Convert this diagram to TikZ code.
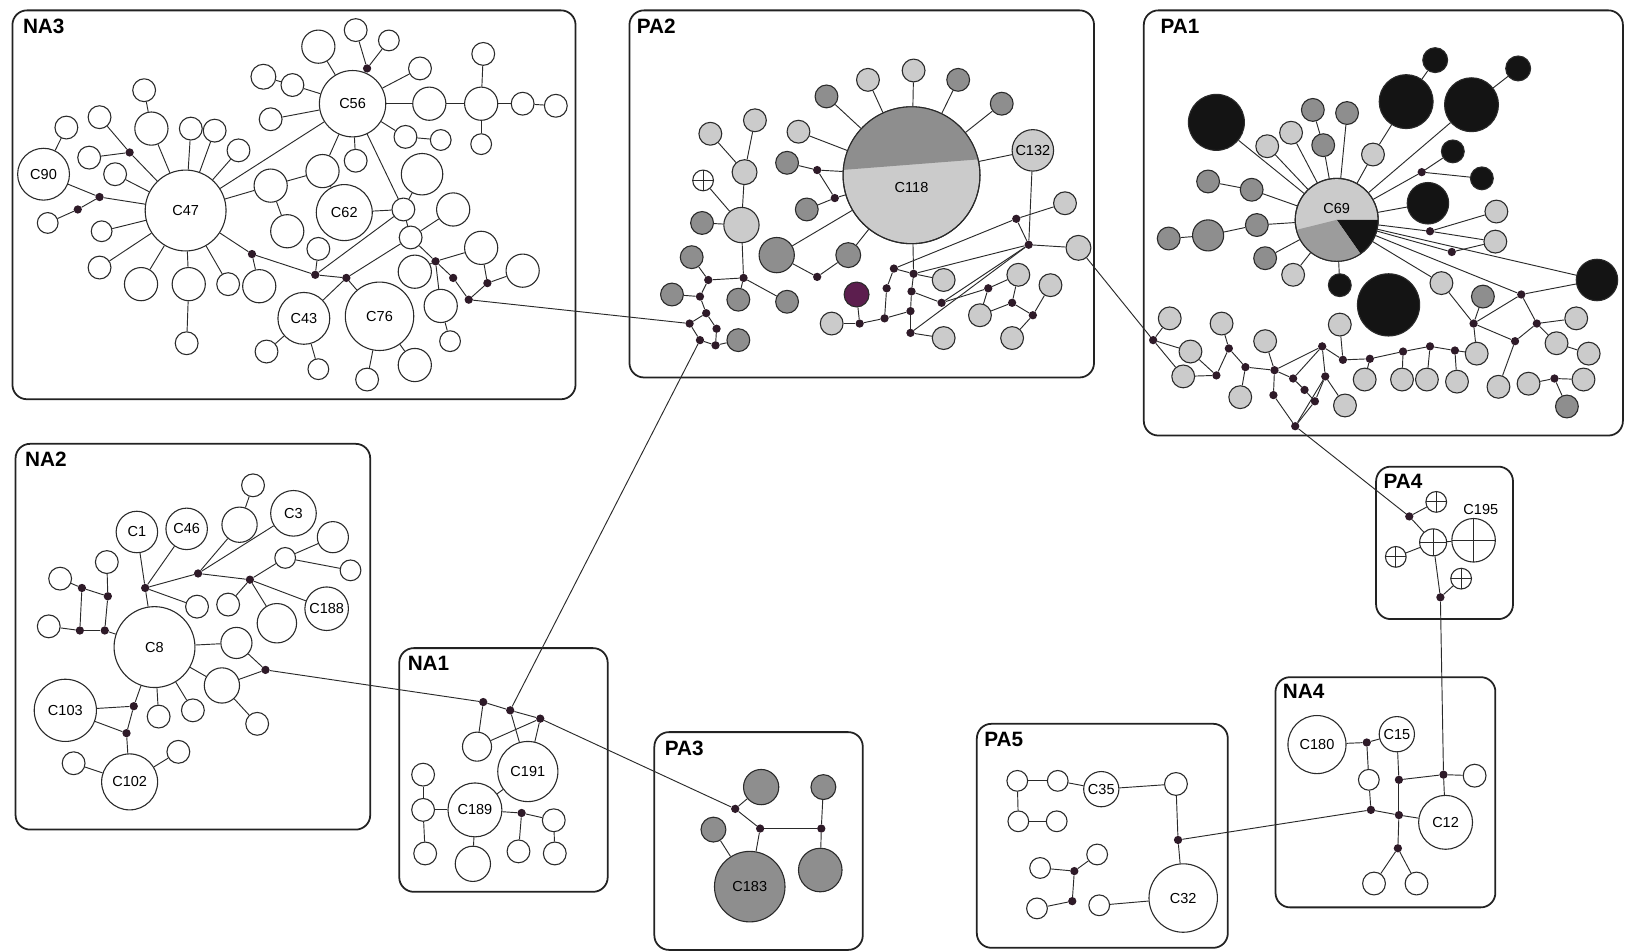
\documentclass[tikz,border=0pt]{standalone}
\usepackage{fontspec}
\setmainfont{Liberation Sans}
\pgfdeclarelayer{bg}
\pgfsetlayers{bg,main}
\definecolor{lc}{HTML}{2A2A2A}
\definecolor{bc}{HTML}{222222}
\definecolor{lg}{HTML}{CBCBCB}
\definecolor{dg}{HTML}{8E8E8E}
\definecolor{mg}{HTML}{9C9C9C}
\definecolor{bk}{HTML}{141414}
\definecolor{pu}{HTML}{5C1E4E}
\definecolor{dc}{HTML}{2E1A28}
\newcommand\clab{\fontsize{14}{14}\selectfont}
\newcommand\glabf{\fontsize{20}{20}\selectfont\bfseries}
\tikzset{
 hap/.style={circle, draw=lc, line width=1.05pt, inner sep=0pt, font=\clab},
 hw/.style={hap, fill=white, minimum size=#1pt},
 hl/.style={hap, fill=lg, minimum size=#1pt},
 hd/.style={hap, fill=dg, minimum size=#1pt},
 hb/.style={hap, fill=bk, minimum size=#1pt},
 hp/.style={hap, fill=pu, minimum size=#1pt},
 hx/.style={hap, fill=white, minimum size=#1pt, path picture={\draw[lc, line width=0.9pt] (path picture bounding box.north) -- (path picture bounding box.south) (path picture bounding box.west) -- (path picture bounding box.east);}},
 mv/.style={circle, fill=dc, inner sep=0pt, minimum size=8pt},
 ed/.style={draw=lc, line width=0.9pt},
 grp/.style={draw=bc, line width=1.7pt, rounded corners=14pt},
 glab/.style={anchor=north west, font=\glabf, inner sep=0pt},
 tlab/.style={font=\clab, inner sep=0pt},
}
\begin{document}
\begin{tikzpicture}[x=1pt,y=-1pt]
\useasboundingbox (0,0) rectangle (1568,918);
\begin{pgfonlayer}{bg}
\fill[white] (0,0) rectangle (1568,918);
\draw[grp] (12,10) rectangle (555,385);
\draw[grp] (607,10) rectangle (1055,364);
\draw[grp] (1103,10) rectangle (1565,420);
\draw[grp] (15,428) rectangle (357,800);
\draw[grp] (385,625) rectangle (586,860);
\draw[grp] (631,706) rectangle (832,916);
\draw[grp] (1327,450) rectangle (1459,597);
\draw[grp] (1230,653) rectangle (1442,875);
\draw[grp] (942,698) rectangle (1184,914);
\end{pgfonlayer}
% group labels
\node[glab] (lNA3) at (22,18) {NA3};
\node[glab] (lPA2) at (614,18) {PA2};
\node[glab] (lPA1) at (1119,18) {PA1};
\node[glab] (lNA2) at (24,436) {NA2};
\node[glab] (lNA1) at (393,633) {NA1};
\node[glab] (lPA3) at (641,714) {PA3};
\node[glab] (lPA4) at (1334,457) {PA4};
\node[glab] (lNA4) at (1237,660) {NA4};
\node[glab] (lPA5) at (949,706) {PA5};

% ---------- NA3 ----------
\node[hw=78] (C47) at (179,203) {C47};
\node[hw=64] (C56) at (340,100) {C56};
\node[hw=50] (C90) at (42,168) {C90};
\node[hw=54] (C62) at (332,205) {C62};
\node[hw=50] (C43) at (293,307) {C43};
\node[hw=66] (C76) at (366,305) {C76};
\node[hw=22] (a1) at (343,29) {};
\node[hw=20] (a2) at (375,39) {};
\node[hw=32] (a3) at (307,45) {};
\node[hw=24] (a4) at (254,74) {};
\node[hw=22] (a5) at (282,82) {};
\node[hw=22] (a6) at (405,66) {};
\node[hw=32] (a7) at (414,100) {};
\node[hw=32] (a8) at (464,100) {};
\node[hw=22] (a9) at (466,52) {};
\node[hw=20] (a10) at (464,139) {};
\node[hw=22] (a11) at (504,100) {};
\node[hw=22] (a12) at (536,102) {};
\node[hw=22] (a13) at (261,115) {};
\node[hw=22] (a14) at (391,132) {};
\node[hw=20] (a15) at (425,135) {};
\node[hw=22] (a16) at (343,155) {};
\node[hw=32] (a17) at (311,165) {};
\node[hw=40] (a18) at (407,168) {};
\node[hw=32] (a19) at (261,179) {};
\node[hw=22] (a20) at (230,145) {};
\node[hw=32] (a21) at (277,223) {};
\node[hw=22] (a22) at (389,202) {};
\node[hw=22] (a23) at (307,240) {};
\node[hw=22] (a24) at (396,229) {};
\node[hw=32] (a25) at (437,202) {};
\node[hw=32] (a26) at (464,239) {};
\node[hw=32] (a27) at (504,261) {};
\node[hw=32] (a28) at (400,262) {};
\node[hw=32] (a29) at (425,295) {};
\node[hw=20] (a30) at (434,329) {};
\node[hw=32] (a31) at (400,352) {};
\node[hw=22] (a32) at (354,366) {};
\node[hw=20] (a33) at (307,356) {};
\node[hw=22] (a34) at (257,339) {};
\node[hw=32] (a35) at (250,276) {};
\node[hw=22] (a36) at (139,87) {};
\node[hw=32] (a37) at (146,124) {};
\node[hw=22] (a38) at (184,124) {};
\node[hw=22] (a39) at (207,126) {};
\node[hw=22] (a40) at (96,113) {};
\node[hw=22] (a41) at (64,123) {};
\node[hw=22] (a42) at (86,152) {};
\node[hw=22] (a43) at (111,168) {};
\node[hw=20] (a44) at (46,215) {};
\node[hw=20] (a45) at (98,223) {};
\node[hw=22] (a46) at (96,258) {};
\node[hw=32] (a47) at (136,274) {};
\node[hw=32] (a48) at (182,274) {};
\node[hw=22] (a49) at (180,331) {};
\node[hw=22] (a50) at (220,274) {};
\node[mv] (ad1) at (354,66) {};
\node[mv] (ad2) at (125,147) {};
\node[mv] (ad3) at (96,190) {};
\node[mv] (ad4) at (75,202) {};
\node[mv] (ad5) at (243,245) {};
\node[mv] (ad6) at (304,265) {};
\node[mv] (ad7) at (334,268) {};
\node[mv] (ad8) at (420,252) {};
\node[mv] (ad9) at (437,268) {};
\node[mv] (ad10) at (470,273) {};
\node[mv] (ad11) at (452,289) {};

% ---------- PA2 ----------
\node[hl=132] (C118) at (879,169) {};
\fill[dg] (C118.center) ++(184.5:66) arc[start angle=184.5, end angle=346.6, radius=66] -- cycle;
\draw[lc, line width=1.05pt] (C118.center) circle[radius=66];
\node[tlab] (C118lab) at (879,181) {C118};
\node[hl=40] (C132) at (996,145) {C132};
\node[hl=22] (b1) at (881,68) {};
\node[hl=22] (b2) at (837,77) {};
\node[hd=22] (b3) at (797,93) {};
\node[hd=22] (b4) at (924,77) {};
\node[hd=22] (b5) at (966,100) {};
\node[hl=22] (b6) at (770,127) {};
\node[hd=22] (b7) at (759,157) {};
\node[hd=22] (b8) at (778,202) {};
\node[hl=22] (b9) at (685,129) {};
\node[hl=22] (b10) at (728,116) {};
\node[hx=20] (b11) at (678,174) {};
\node[hl=24] (b12) at (718,166) {};
\node[hl=34] (b13) at (715,217) {};
\node[hd=22] (b14) at (677,215) {};
\node[hd=34] (b15) at (749,246) {};
\node[hd=24] (b16) at (818,246) {};
\node[hd=22] (b17) at (667,248) {};
\node[hd=22] (b18) at (648,284) {};
\node[hd=22] (b19) at (712,289) {};
\node[hd=22] (b20) at (759,291) {};
\node[hd=22] (b21) at (712,328) {};
\node[hp=24] (b22) at (826,284) {};
\node[hl=22] (b23) at (802,312) {};
\node[hl=22] (b24) at (910,270) {};
\node[hl=22] (b25) at (910,326) {};
\node[hl=22] (b26) at (982,265) {};
\node[hl=22] (b27) at (1013,275) {};
\node[hl=22] (b28) at (945,304) {};
\node[hl=22] (b29) at (976,326) {};
\node[hl=22] (b30) at (1027,196) {};
\node[hl=24] (b31) at (1040,239) {};
\node[mv] (bd1) at (717,268) {};
\node[mv] (bd2) at (683,270) {};
\node[mv] (bd3) at (675,286) {};
\node[mv] (bd4) at (681,302) {};
\node[mv] (bd5) at (665,312) {};
\node[mv] (bd6) at (691,317) {};
\node[mv] (bd7) at (675,328) {};
\node[mv] (bd8) at (690,333) {};
\node[mv] (bd9) at (788,267) {};
\node[mv] (bd10) at (862,259) {};
\node[mv] (bd11) at (881,264) {};
\node[mv] (bd12) at (855,278) {};
\node[mv] (bd13) at (879,281) {};
\node[mv] (bd14) at (878,300) {};
\node[mv] (bd15) at (853,307) {};
\node[mv] (bd16) at (829,312) {};
\node[mv] (bd17) at (878,321) {};
\node[mv] (bd18) at (908,292) {};
\node[mv] (bd19) at (953,278) {};
\node[mv] (bd20) at (976,292) {};
\node[mv] (bd21) at (996,304) {};
\node[mv] (bd22) at (980,211) {};
\node[mv] (bd23) at (992,236) {};
\node[mv] (bd24) at (788,164) {};
\node[mv] (bd25) at (805,191) {};

% ---------- PA1 ----------
\node[hl=80] (C69) at (1289,212) {};
\fill[bk] (C69.center) -- ++(0:40) arc[start angle=0, end angle=55, radius=40] -- cycle;
\fill[mg] (C69.center) -- ++(55:40) arc[start angle=55, end angle=166, radius=40] -- cycle;
\draw[lc, line width=1.05pt] (C69.center) circle[radius=40];
\node[tlab] (C69lab) at (1289,201) {C69};
\node[hb=54] (p1) at (1173,118) {};
\node[hb=52] (p2) at (1356,98) {};
\node[hb=52] (p3) at (1419,101) {};
\node[hb=24] (p4) at (1384,58) {};
\node[hb=24] (p5) at (1464,66) {};
\node[hb=22] (p6) at (1401,146) {};
\node[hb=22] (p7) at (1429,172) {};
\node[hb=40] (p8) at (1377,196) {};
\node[hb=40] (p9) at (1540,270) {};
\node[hb=22] (p10) at (1292,275) {};
\node[hb=60] (p11) at (1339,294) {};
\node[hd=22] (p12) at (1266,106) {};
\node[hd=22] (p13) at (1299,109) {};
\node[hd=22] (p14) at (1276,140) {};
\node[hd=22] (p15) at (1165,175) {};
\node[hd=22] (p16) at (1207,183) {};
\node[hd=30] (p17) at (1165,227) {};
\node[hd=22] (p18) at (1127,230) {};
\node[hd=22] (p19) at (1212,217) {};
\node[hd=22] (p20) at (1220,249) {};
\node[hd=22] (p21) at (1430,286) {};
\node[hd=22] (p22) at (1511,392) {};
\node[hl=22] (p23) at (1245,128) {};
\node[hl=22] (p24) at (1222,141) {};
\node[hl=22] (p25) at (1324,149) {};
\node[hl=22] (p26) at (1443,204) {};
\node[hl=22] (p27) at (1442,233) {};
\node[hl=22] (p28) at (1247,265) {};
\node[hl=22] (p29) at (1390,273) {};
\node[hl=22] (p30) at (1128,307) {};
\node[hl=22] (p31) at (1178,312) {};
\node[hl=22] (p32) at (1148,339) {};
\node[hl=22] (p33) at (1141,363) {};
\node[hl=22] (p34) at (1196,383) {};
\node[hl=22] (p35) at (1220,329) {};
\node[hl=22] (p36) at (1292,313) {};
\node[hl=22] (p37) at (1297,391) {};
\node[hl=22] (p38) at (1316,366) {};
\node[hl=22] (p39) at (1352,366) {};
\node[hl=22] (p40) at (1376,366) {};
\node[hl=22] (p41) at (1405,368) {};
\node[hl=22] (p42) at (1424,341) {};
\node[hl=22] (p43) at (1445,373) {};
\node[hl=22] (p44) at (1474,370) {};
\node[hl=22] (p45) at (1501,331) {};
\node[hl=22] (p46) at (1520,307) {};
\node[hl=22] (p47) at (1532,341) {};
\node[hl=22] (p48) at (1527,366) {};
\node[mv] (pd1) at (1371,166) {};
\node[mv] (pd2) at (1379,223) {};
\node[mv] (pd3) at (1400,243) {};
\node[mv] (pd4) at (1467,284) {};
\node[mv] (pd5) at (1421,312) {};
\node[mv] (pd6) at (1482,312) {};
\node[mv] (pd7) at (1461,329) {};
\node[mv] (pd8) at (1499,365) {};
\node[mv] (pd9) at (1403,338) {};
\node[mv] (pd10) at (1379,334) {};
\node[mv] (pd11) at (1353,339) {};
\node[mv] (pd12) at (1321,346) {};
\node[mv] (pd13) at (1295,347) {};
\node[mv] (pd14) at (1275,334) {};
\node[mv] (pd15) at (1278,363) {};
\node[mv] (pd16) at (1268,387) {};
\node[mv] (pd17) at (1258,376) {};
\node[mv] (pd18) at (1247,365) {};
\node[mv] (pd19) at (1249,411) {};
\node[mv] (pd20) at (1228,381) {};
\node[mv] (pd21) at (1229,357) {};
\node[mv] (pd22) at (1201,354) {};
\node[mv] (pd23) at (1185,336) {};
\node[mv] (pd24) at (1173,362) {};
\node[mv] (pd25) at (1112,328) {};

% ---------- PA4 ----------
\node[hx=20] (q1) at (1385,484) {};
\node[hx=42] (C195) at (1421,521) {};
\node[tlab] (C195lab) at (1428,491) {C195};
\node[hx=26] (q2) at (1382,523) {};
\node[hx=20] (q3) at (1346,537) {};
\node[hx=20] (q4) at (1409,558) {};
\node[mv] (qd1) at (1359,498) {};
\node[mv] (qd2) at (1389,576) {};

% ---------- NA4 ----------
\node[hw=56] (C180) at (1270,718) {C180};
\node[hw=34] (C15) at (1347,708) {C15};
\node[hw=20] (r1) at (1320,752) {};
\node[hw=22] (r2) at (1422,748) {};
\node[hw=52] (C12) at (1394,793) {C12};
\node[hw=22] (r3) at (1325,852) {};
\node[hw=22] (r4) at (1366,852) {};
\node[mv] (rd1) at (1318,716) {};
\node[mv] (rd2) at (1349,752) {};
\node[mv] (rd3) at (1392,747) {};
\node[mv] (rd4) at (1322,781) {};
\node[mv] (rd5) at (1349,786) {};
\node[mv] (rd6) at (1348,818) {};

% ---------- PA5 ----------
\node[hw=20] (s1) at (981,753) {};
\node[hw=20] (s2) at (1020,753) {};
\node[hw=34] (C35) at (1062,761) {C35};
\node[hw=22] (s3) at (1134,756) {};
\node[hw=20] (s4) at (982,792) {};
\node[hw=20] (s5) at (1019,792) {};
\node[hw=20] (s6) at (1003,837) {};
\node[hw=20] (s7) at (1058,824) {};
\node[hw=20] (s8) at (1000,876) {};
\node[hw=20] (s9) at (1060,873) {};
\node[hw=66] (C32) at (1141,866) {C32};
\node[mv] (sd1) at (1136,810) {};
\node[mv] (sd2) at (1036,840) {};
\node[mv] (sd3) at (1034,869) {};

% ---------- NA2 ----------
\node[hw=40] (C1) at (132,513) {C1};
\node[hw=40] (C46) at (180,510) {C46};
\node[hw=44] (C3) at (283,495) {C3};
\node[hw=42] (C188) at (315,587) {C188};
\node[hw=78] (C8) at (149,624) {C8};
\node[hw=60] (C103) at (63,685) {C103};
\node[hw=54] (C102) at (125,754) {C102};
\node[hw=22] (n1) at (244,468) {};
\node[hw=34] (n2) at (231,506) {};
\node[hw=30] (n3) at (321,518) {};
\node[hw=20] (n4) at (275,538) {};
\node[hw=20] (n5) at (338,550) {};
\node[hw=22] (n6) at (103,542) {};
\node[hw=22] (n7) at (58,558) {};
\node[hw=22] (n8) at (47,604) {};
\node[hw=22] (n9) at (190,585) {};
\node[hw=22] (n10) at (220,583) {};
\node[hw=38] (n11) at (267,601) {};
\node[hw=30] (n12) at (228,620) {};
\node[hw=34] (n13) at (214,661) {};
\node[hw=22] (n14) at (248,698) {};
\node[hw=22] (n15) at (153,691) {};
\node[hw=22] (n16) at (186,685) {};
\node[hw=22] (n17) at (71,736) {};
\node[hw=22] (n18) at (172,725) {};
\node[mv] (nd1) at (140,567) {};
\node[mv] (nd2) at (191,553) {};
\node[mv] (nd3) at (241,559) {};
\node[mv] (nd4) at (79,567) {};
\node[mv] (nd5) at (104,575) {};
\node[mv] (nd6) at (77,608) {};
\node[mv] (nd7) at (101,608) {};
\node[mv] (nd8) at (256,646) {};
\node[mv] (nd9) at (129,681) {};
\node[mv] (nd10) at (122,707) {};

% ---------- NA1 ----------
\node[hw=58] (C191) at (509,744) {C191};
\node[hw=52] (C189) at (458,781) {C189};
\node[hw=28] (m1) at (460,720) {};
\node[hw=22] (m2) at (408,747) {};
\node[hw=22] (m3) at (408,781) {};
\node[hw=22] (m4) at (410,823) {};
\node[hw=34] (m5) at (456,833) {};
\node[hw=22] (m6) at (500,821) {};
\node[hw=22] (m7) at (534,791) {};
\node[hw=22] (m8) at (535,823) {};
\node[mv] (md1) at (466,677) {};
\node[mv] (md2) at (492,685) {};
\node[mv] (md3) at (521,693) {};
\node[mv] (md4) at (503,784) {};

% ---------- PA3 ----------
\node[hd=34] (t1) at (734,759) {};
\node[hd=24] (t2) at (794,759) {};
\node[hd=24] (t3) at (688,800) {};
\node[hd=68] (C183) at (723,855) {C183};
\node[hd=42] (t4) at (791,839) {};
\node[mv] (td1) at (709,780) {};
\node[mv] (td2) at (733,799) {};
\node[mv] (td3) at (792,799) {};

% ---------- connectors ----------
\begin{pgfonlayer}{bg}
\foreach \u/\v in {C47/a37, C47/a38, C47/a39, C47/a20, C47/C56, C47/a19, C47/ad2, C47/ad3, C47/a43, C47/a45, C47/a46, C47/a47, C47/a48, C47/a50, C47/ad5, ad2/a40, ad2/a42, ad3/C90, ad3/ad4, ad4/a44, a41/C90, a36/a37, a48/a49, ad5/a35, ad5/ad6, ad6/ad7, ad6/a23, ad6/a22, ad7/C43, ad7/C76, ad7/a24, a24/a22, a22/C62, a22/C56, a22/a18, C62/a17, a19/a17, a21/a19, a17/C56, C56/a3, C56/a5, C56/ad1, C56/a6, C56/a7, C56/a13, C56/a14, C56/a16, a5/a4, ad1/a1, ad1/a2, a7/a8, a8/a9, a8/a10, a8/a11, a11/a12, a15/a14, a25/a24, a24/ad8, ad8/a28, ad8/a29, ad8/a26, ad8/ad9, ad9/ad11, ad11/ad10, ad10/a26, ad10/a27, a29/a30, C76/a31, C76/a32, C43/a33, C43/a34}
  \draw[ed] (\u) -- (\v);
\foreach \u/\v in {C118/b1, C118/b2, C118/b3, C118/b4, C118/b5, C118/b6, C118/bd24, C118/bd25, C118/C132, C118/b15, C118/b16, C118/bd11, bd24/b7, bd24/bd25, bd25/b8, b9/b12, b10/b12, b12/b13, b11/b13, b14/b13, b13/bd1, bd1/bd2, bd1/b20, bd1/b19, b17/bd2, bd2/bd3, bd3/b18, bd3/bd4, bd4/bd5, bd4/bd6, bd5/bd7, bd6/bd8, bd7/bd8, bd8/b21, b15/bd9, bd9/b16, b22/bd16, bd16/b23, bd16/bd15, bd15/bd12, bd12/bd10, bd10/bd11, bd11/bd13, bd13/bd14, bd14/bd17, bd15/bd14, bd17/b25, bd11/b24, bd13/bd18, bd10/bd22, bd11/bd23, bd18/bd23, bd17/bd23, bd22/b30, bd22/bd23, C132/bd23, bd23/b31, bd19/b26, bd19/b28, b28/bd20, bd20/b26, bd20/bd21, bd21/b27, bd21/b29, bd18/bd19}
  \draw[ed] (\u) -- (\v);
\foreach \u/\v in {C69/p1, C69/p23, C69/p24, C69/p14, C69/p13, C69/p25, C69/p3, C69/pd1, C69/p8, C69/p16, C69/p19, C69/p20, C69/p28, C69/p10, C69/pd2, C69/pd3, C69/p9, C69/pd4, C69/p29, p14/p12, p25/p2, p2/p4, p3/p5, pd1/p6, pd1/p7, p16/p15, p19/p17, p17/p18, pd2/p26, pd2/p27, pd3/p27, p29/pd5, pd4/p9, pd4/pd5, pd4/pd6, pd5/pd7, pd7/pd6, pd7/p43, pd5/p42, pd6/p46, pd6/p45, p45/p47, pd8/p44, pd8/p48, pd8/p22, pd14/pd13, pd13/pd12, pd12/pd11, pd11/pd10, pd10/pd9, pd9/p42, pd13/p36, pd12/p38, pd11/p39, pd10/p40, pd9/p41, pd14/pd21, pd14/pd15, pd14/pd18, pd21/pd22, pd21/pd20, pd21/pd18, pd18/pd17, pd17/pd16, pd15/pd16, pd16/pd19, pd20/pd19, pd15/pd19, pd15/p37, pd22/pd23, pd23/p31, pd22/p34, pd21/p35, pd23/pd24, pd24/p33, pd24/p32, pd25/p30, pd25/p33, pd25/p32, p21/pd5}
  \draw[ed] (\u) -- (\v);
\foreach \u/\v in {qd1/q1, qd1/q2, q2/q3, q2/C195, q2/qd2, qd2/q4, C180/rd1, rd1/C15, rd1/r1, C15/rd2, rd2/rd3, rd3/r2, rd3/C12, rd2/rd5, r1/rd4, rd4/rd5, rd5/C12, rd5/rd6, rd6/r3, rd6/r4, s1/s2, s2/C35, C35/s3, s3/sd1, sd1/C32, s1/s4, s4/s5, s6/sd2, sd2/s7, sd2/sd3, sd3/s8, s9/C32}
  \draw[ed] (\u) -- (\v);
\foreach \u/\v in {C1/nd1, C46/nd1, nd1/C8, nd1/n9, nd1/nd2, nd2/n2, nd2/C3, nd2/nd3, nd3/n4, nd3/C188, nd3/n11, nd3/n10, n2/n1, n4/n3, n4/n5, n6/nd5, nd5/nd4, nd4/n7, nd4/nd6, nd5/nd7, nd6/nd7, nd6/n8, nd7/C8, C8/n12, n12/nd8, C8/n13, n13/nd8, n13/n14, C8/n16, C8/n15, C8/nd9, nd9/C103, nd9/nd10, nd10/C103, nd10/C102, C102/n17, C102/n18, md1/md2, md2/md3, md1/m1, m1/md3, md2/C191, md3/C191, C189/C191, C189/m3, m2/m3, m3/m4, C189/m5, C189/md4, md4/m6, md4/m7, m7/m8, td1/t1, td1/td2, td2/td3, td3/t2, td3/t4, td2/C183, t3/C183}
  \draw[ed] (\u) -- (\v);
\foreach \u/\v in {ad11/bd5, bd7/md2, nd8/md1, md3/td1, b31/pd25, pd19/qd1, qd2/rd3, rd4/sd1}
  \draw[ed] (\u) -- (\v);
\end{pgfonlayer}
\end{tikzpicture}
\end{document}
